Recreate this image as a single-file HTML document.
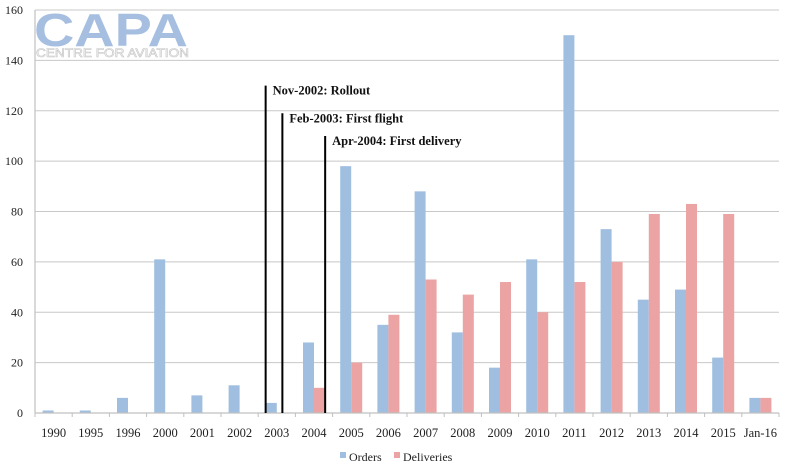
<!DOCTYPE html>
<html><head><meta charset="utf-8"><style>
body{margin:0;background:#fff;}
svg{display:block;font-family:"Liberation Serif",serif;}
</style></head><body>
<svg id="chart" width="788" height="473" viewBox="0 0 788 473" xmlns="http://www.w3.org/2000/svg">
<g id="grid"></g>
<g id="logo">
<text x="34" y="46" font-family="Liberation Sans, sans-serif" font-weight="bold" font-size="46" fill="#a6bfe0" textLength="154" lengthAdjust="spacingAndGlyphs">CAPA</text>
<text x="36" y="57" font-family="Liberation Sans, sans-serif" font-size="12" fill="#fff" stroke="#c4c4c4" stroke-width="0.6" textLength="153" lengthAdjust="spacingAndGlyphs">CENTRE FOR AVIATION</text>
</g>
<g id="bars"></g>
<g id="axes"></g>
<g id="annots"></g>
<g id="legend">
<rect x="340" y="452" width="6" height="6" fill="#a0bfe0"/>
<text x="349" y="461" font-size="12" fill="#222">Orders</text>
<rect x="394" y="452" width="6" height="6" fill="#eba3a3"/>
<text x="403" y="461" font-size="12" fill="#222">Deliveries</text>
</g>
</svg>
<script>
const categories=["1990","1995","1996","2000","2001","2002","2003","2004","2005","2006","2007","2008","2009","2010","2011","2012","2013","2014","2015","Jan-16"];
const orders=[1,1,6,61,7,11,4,28,98,35,88,32,18,61,150,73,45,49,22,6];
const deliveries=[0,0,0,0,0,0,0,10,20,39,53,47,52,40,52,60,79,83,79,6];
const yTicks=[0,20,40,60,80,100,120,140,160];
const milestones=[{pos:6.2,top:130,label:"Nov-2002: Rollout"},{pos:6.65,top:119,label:"Feb-2003: First flight"},{pos:7.8,top:110,label:"Apr-2004: First delivery"}];
const X0=35,X1=779,Y0=413,Y1=10,MAX=160;
const bw=(X1-X0)/categories.length;
const y=v=>Y0-(v/MAX)*(Y0-Y1);
const xc=i=>X0+(i+0.5)*bw;
const NS="http://www.w3.org/2000/svg";
function mk(t,a,p){const e=document.createElementNS(NS,t);for(const k in a)e.setAttribute(k,a[k]);p.appendChild(e);return e;}
const grid=document.getElementById('grid'),bars=document.getElementById('bars'),axes=document.getElementById('axes'),ann=document.getElementById('annots');
yTicks.forEach(t=>{
 if(t>0){const g=mk('line',{x1:X0,x2:X1,y1:y(t),y2:y(t),stroke:'#c8c8c8','stroke-width':1},grid);
 
 }
 const l=mk('text',{x:23,y:y(t)+4,'text-anchor':'end','font-size':12,fill:'#222'},axes);
 l.textContent=t;
 
 
});
const bwid=11;
categories.forEach((c,i)=>{
 const cx=xc(i);
 if(orders[i]>0){const r=mk('rect',{x:cx-bwid,y:y(orders[i]),width:bwid,height:Y0-y(orders[i]),fill:'#a0bfe0'},bars);
 
 }
 if(deliveries[i]>0){const r=mk('rect',{x:cx,y:y(deliveries[i]),width:bwid,height:Y0-y(deliveries[i]),fill:'#eba3a3'},bars);
 
 }
 const l=mk('text',{x:cx,y:437,'text-anchor':'middle','font-size':12.5,fill:'#222'},axes);
 l.textContent=c;
 
 
});
for(let i=0;i<=categories.length;i++){const t=mk('line',{x1:X0+i*bw,x2:X0+i*bw,y1:Y0,y2:Y0+4,stroke:'#c0c0c0'},axes);
 
 }
const xa=mk('line',{x1:X0,x2:X1,y1:Y0,y2:Y0,stroke:'#c0c0c0','stroke-width':1.2},axes);


const ya=mk('line',{x1:X0,x2:X0,y1:Y1,y2:Y0,stroke:'#c0c0c0','stroke-width':1.2},axes);


milestones.forEach(m=>{
 const x=X0+m.pos*bw;
 const l=mk('line',{x1:x,x2:x,y1:y(m.top),y2:Y0,stroke:'#000','stroke-width':2},ann);
 
 
 const t=mk('text',{x:x+7,y:y(m.top)+9,'font-size':12.5,'font-weight':'bold',fill:'#111'},ann);
 t.textContent=m.label;
 
 
});
</script>
</body></html>
